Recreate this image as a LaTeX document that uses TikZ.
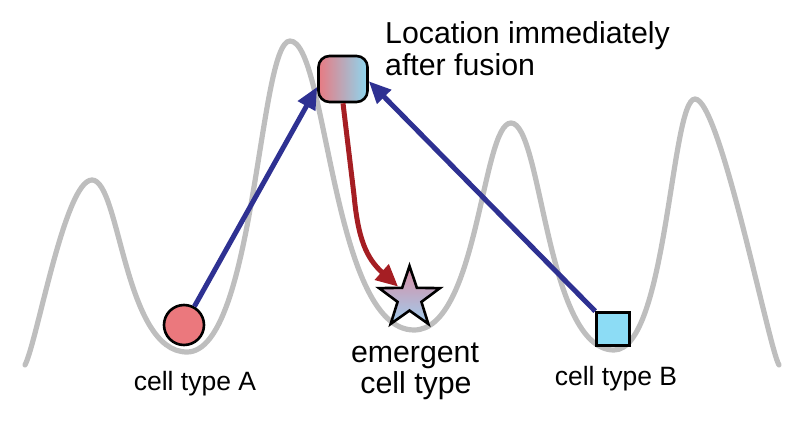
\documentclass[tikz,border=0pt]{standalone}
\usepackage{fontspec}
\setmainfont{Liberation Sans}
\usetikzlibrary{shapes.geometric,arrows.meta}
\definecolor{landgray}{RGB}{190,190,190}
\definecolor{arrblue}{RGB}{46,49,146}
\definecolor{arrred}{RGB}{165,30,35}
\definecolor{cellred}{RGB}{235,120,125}
\definecolor{cellblue}{RGB}{140,220,245}
\definecolor{gradred}{RGB}{232,122,130}
\definecolor{gradblue}{RGB}{140,215,240}
\definecolor{starpink}{RGB}{218,140,162}
\definecolor{starblue}{RGB}{160,205,238}
\begin{document}
\begin{tikzpicture}[x=1pt,y=-1pt,
  land/.style={draw=landgray, line width=5.2pt, line cap=round},
  cellbox/.style={draw=black, line width=2.6pt, inner sep=0pt},
  blueconn/.style={draw=arrblue, line width=5pt, -{Triangle[length=22pt,width=19pt]}},
  redconn/.style={draw=arrred, line width=5pt, -{Triangle[length=22pt,width=20pt]}},
  biglab/.style={font=\fontsize{30.3}{31}\selectfont, inner sep=0pt},
  smalllab/.style={font=\fontsize{26.5}{28}\selectfont, inner sep=0pt}
]
\useasboundingbox (0,0) rectangle (800,423);
\draw[land] (25,365) .. controls (37,342) and (65,180) .. (92,180)
  .. controls (120,180) and (124,352) .. (187,352)
  .. controls (255,352) and (259,41) .. (290,41)
  .. controls (327,41) and (332,330) .. (414,330)
  .. controls (478,330) and (482,123) .. (511,123)
  .. controls (542,123) and (546,350) .. (614,350)
  .. controls (667,350) and (671,99) .. (695,99)
  .. controls (720,99) and (769,349) .. (779,365);

\node[cellbox, circle, fill=cellred, minimum size=40pt] (A) at (184,325) {};
\node[cellbox, rectangle, fill=cellblue, minimum size=33pt] (B) at (613,329) {};
\node[cellbox, rectangle, rounded corners=11pt, left color=gradred, right color=gradblue,
      minimum width=49pt, minimum height=46pt] (fus) at (343,79) {};
\node[cellbox, star, star points=5, star point ratio=2.55, top color=starpink,
      bottom color=starblue, minimum size=64pt] (emg) at (409.5,298) {};

\draw[blueconn] (A) -- (fus.197);
\draw[blueconn] (B.north west) -- (fus.-5);
\draw[redconn] (fus.south) -- (354,195) .. controls (358,238) and (366,258) .. (emg.135);

\node[biglab, anchor=base west] (loc1) at (385,43) {Location immediately};
\node[biglab, anchor=base west] (loc2) at (385,75) {after fusion};
\node[biglab, anchor=base] (em1) at (415,362) {emergent};
\node[biglab, anchor=base] (em2) at (416,393) {cell type};
\node[smalllab, anchor=base] (la) at (195,390) {cell type A};
\node[smalllab, anchor=base] (lb) at (616,385) {cell type B};
\end{tikzpicture}
\end{document}
